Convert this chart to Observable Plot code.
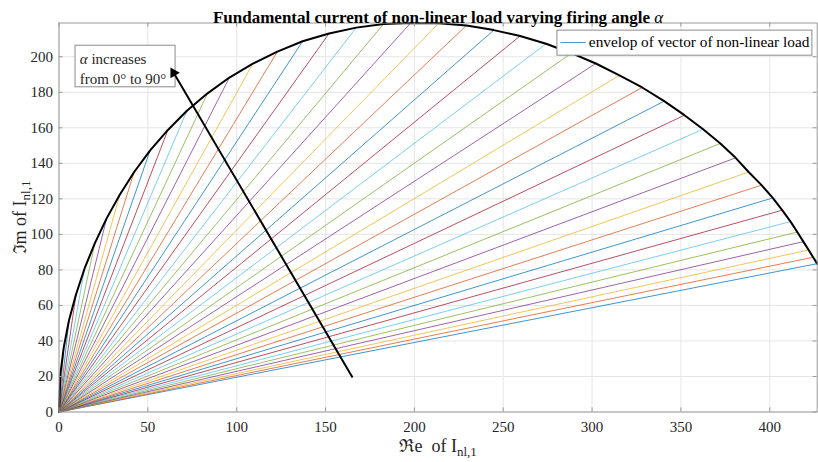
<!DOCTYPE html>
<html><head><meta charset="utf-8">
<script src="https://cdn.jsdelivr.net/npm/d3@7"></script>
<script src="https://cdn.jsdelivr.net/npm/@observablehq/plot@0.6"></script>
<style>body{margin:0;background:#fff}svg{display:block}</style>
</head><body><div id="chart"></div>
<script>
// firing angle (degrees) for each fundamental-current vector
const alphaDeg = [0,2,4,6,8,10,12,14,16,18,20,22,24,26,28,30,32,34,36,38,40,42,44,46,48,50,52,54,56,58,60,62,64,66,68,70,72,74,76,78,80,82,84,86,88,90];
// real part of I_nl,1 (end point of each vector)
const reX = [426.7,424.4,421.9,418.9,415.5,411.7,407.0,401.7,395.4,388.1,380.8,372.2,362.5,352.0,340.6,328.2,315.4,302.1,288.4,274.1,259.5,244.7,229.3,213.7,197.9,182.7,167.3,152.0,137.1,122.9,109.1,95.9,83.6,72.0,61.3,51.3,42.3,34.2,26.8,20.2,14.4,9.6,5.6,2.7,0.8,0];
// imaginary part of I_nl,1
const imY = [83.5,87.1,91.2,95.9,101.3,107.2,113.6,120.5,127.7,135.1,143.1,151.2,159.2,167.1,175.0,182.7,189.5,196.2,202.0,207.3,211.7,215.0,217.6,218.9,219.0,218.5,216.4,213.1,208.7,202.9,196.1,188.3,179.4,169.6,158.8,147.3,135.1,122.3,109.0,95.1,80.8,66.3,51.5,36.5,21.4,0];

const xTicks = [0,50,100,150,200,250,300,350,400];
const yTicks = [0,20,40,60,80,100,120,140,160,180,200];
const xDomain = [0, 426.7];
const yDomain = [0, 219];
const palette = ["#0072BD","#D95319","#EDB120","#7E2F8E","#77AC30","#4DBEEE","#A2142F"];

const titleText = "Fundamental current of non-linear load varying firing angle ";
const xLabelText = "ℜe  of I";
const yLabelText = "ℑm of I";
const subText = "nl,1";
const legendText = "envelop of vector of non-linear load";
const noteLine1 = " increases";
const noteLine2 = "from 0° to 90°";

// annotation placement (data coordinates)
const arrowFrom = {x: 165.2, y: 19.4};
const arrowTo = {x: 62.7, y: 194.0};
const arrowShaftEnd = {x: 64.6, y: 190.8};
const noteBox = {x1: 9.3, x2: 65.6, y1: 182.8, y2: 206.2};
const notePos = [{x: 11.7, y: 198.9}, {x: 11.7, y: 187.5}];
const legendBox = {x1: 280.5, x2: 424.0, y1: 200.6, y2: 214.7};
const legendSample = {x1: 282.2, x2: 296.4, y: 208.0};
const legendTextPos = {x: 298.2, y: 208.0};
const xLabelPos = {x: 213.35, y: -19.5};
const yLabelPos = {x: -22.0, y: 109.5};
const tickLen = 2.3;

const pts = alphaDeg.map((a, i) => ({alpha: a, re: reX[i], im: imY[i], k: i % 7}));
const font = "'Liberation Serif','Times New Roman',serif";

// arrow head orientation (screen pixels; equal aspect)
const hdx = arrowTo.x - arrowFrom.x, hdy = -(arrowTo.y - arrowFrom.y);
const hlen = Math.hypot(hdx, hdy);
const headAngle = Math.atan2(hdx, -hdy) * 180 / Math.PI;

const plot = Plot.plot({
  width: 818, height: 462,
  marginLeft: 58.5, marginRight: 1.3, marginTop: 22.5, marginBottom: 50.5,
  style: {fontFamily: font, fontSize: "15px", color: "#262626", background: "#fff", overflow: "visible"},
  x: {domain: xDomain, ticks: xTicks, label: null},
  y: {domain: yDomain, ticks: yTicks, label: null},
  color: {type: "ordinal", domain: [0,1,2,3,4,5,6], range: palette},
  marks: [
    Plot.ruleX(xTicks, {stroke: "#e6e6e6", strokeWidth: 1}),
    Plot.ruleY(yTicks, {stroke: "#e6e6e6", strokeWidth: 1}),
    Plot.link(pts, {x1: () => 0, y1: () => 0, x2: "re", y2: "im", stroke: "k", strokeWidth: 0.75}),
    Plot.line(pts, {x: "re", y: "im", stroke: "black", strokeWidth: 2}),
    Plot.frame({stroke: "#9a9a9a"}),
    Plot.ruleX(xTicks, {y1: yDomain[0], y2: yDomain[0] + tickLen, stroke: "#9a9a9a"}),
    Plot.ruleX(xTicks, {y1: yDomain[1] - tickLen, y2: yDomain[1], stroke: "#9a9a9a"}),
    Plot.ruleY(yTicks, {x1: xDomain[0], x2: xDomain[0] + tickLen, stroke: "#9a9a9a"}),
    Plot.ruleY(yTicks, {x1: xDomain[1] - tickLen, x2: xDomain[1], stroke: "#9a9a9a"}),
    Plot.axisX({ticks: xTicks, tickSize: 0, tickPadding: 9, fontSize: 15, label: null}),
    Plot.axisY({ticks: yTicks, tickSize: 0, tickPadding: 6, fontSize: 15, label: null}),
    // annotation box + arrow
    Plot.rect([noteBox], {x1: "x1", x2: "x2", y1: "y1", y2: "y2", fill: "white", stroke: "#8c8c8c"}),
    Plot.text([noteLine1], {x: notePos[0].x, y: notePos[0].y, text: d => d, textAnchor: "start", fontSize: 15, fill: "#262626"}),
    Plot.text([noteLine2], {x: notePos[1].x, y: notePos[1].y, text: d => d, textAnchor: "start", fontSize: 15, fill: "#262626"}),
    Plot.link([{x1: arrowFrom.x, y1: arrowFrom.y, x2: arrowShaftEnd.x, y2: arrowShaftEnd.y}], {x1: "x1", y1: "y1", x2: "x2", y2: "y2", stroke: "black", strokeWidth: 2}),
    Plot.dot([arrowTo], {x: "x", y: "y", symbol: "triangle", r: 4, fill: "black", stroke: null, rotate: headAngle,
      dx: -hdx / hlen * 6.2, dy: -hdy / hlen * 6.2}),
    // legend
    Plot.rect([legendBox], {x1: "x1", x2: "x2", y1: "y1", y2: "y2", fill: "white", stroke: "#8c8c8c"}),
    Plot.link([legendSample], {x1: "x1", x2: "x2", y1: "y", y2: "y", stroke: palette[0], strokeWidth: 0.75}),
    Plot.text([legendText], {x: legendTextPos.x, y: legendTextPos.y, text: d => d, textAnchor: "start", fontSize: 15.3, fill: "#000"}),
    // titles
    Plot.text([titleText], {frameAnchor: "top", dy: -12, text: d => d, fontSize: 17, fontWeight: "bold", fill: "#000"}),
    Plot.text([xLabelText], {x: xLabelPos.x, y: xLabelPos.y, text: d => d, textAnchor: "middle", fontSize: 18, fill: "#262626", clip: false}),
    Plot.text([yLabelText], {x: yLabelPos.x, y: yLabelPos.y, rotate: -90, text: d => d, textAnchor: "middle", fontSize: 18, fill: "#262626", clip: false})
  ]
});

document.getElementById("chart").appendChild(plot);

// rich text: subscripts and italic alpha
d3.select(plot).selectAll("text").each(function() {
  const t = this.textContent;
  const sel = d3.select(this);
  if (t === xLabelText || t === yLabelText) {
    sel.append("tspan").attr("dy", 4).attr("font-size", 13).text(subText);
  } else if (t === titleText) {
    sel.append("tspan").attr("font-style", "italic").attr("font-weight", "normal").text("α");
  } else if (t === noteLine1) {
    sel.text(null);
    sel.append("tspan").attr("font-style", "italic").text("α");
    sel.append("tspan").text(noteLine1);
  }
});
</script>
</body></html>
